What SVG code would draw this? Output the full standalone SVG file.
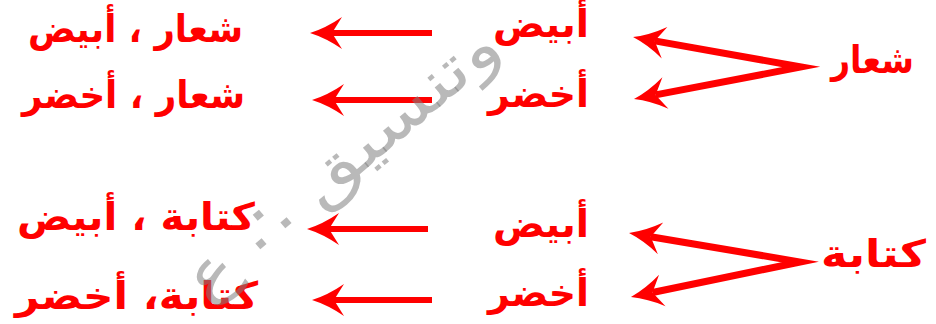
<svg xmlns="http://www.w3.org/2000/svg" width="936" height="324" viewBox="0 0 936 324">
<style>
.t{font-family:"DejaVu Sans","Noto Sans",sans-serif;font-weight:bold;fill:#ff0000;font-size:38px}
.c{fill:none;stroke:#ff0000;stroke-width:6}
.c2{fill:none;stroke:#ff0000;stroke-width:7;stroke-linejoin:miter;stroke-miterlimit:20}
.wm{font-family:"DejaVu Sans",sans-serif;font-size:62px;fill:#808080;fill-opacity:0.55}
</style>
<defs>
<marker id="ah" markerUnits="userSpaceOnUse" orient="auto-start-reverse" refX="-22" refY="0" markerWidth="40" markerHeight="40" overflow="visible">
<path d="M0,0 Q-16,-5 -32,-16 L-22,0 L-32,16 Q-16,5 0,0 Z" fill="#ff0000"/>
</marker>
</defs>
<rect width="936" height="324" fill="#ffffff"/>
<g id="connectors">
<path class="c" d="M432,33 L332,33" marker-end="url(#ah)"/>
<path class="c" d="M432,100 L334,100" marker-end="url(#ah)"/>
<path class="c" d="M428,229 L329,229" marker-end="url(#ah)"/>
<path class="c" d="M432,300 L334,300" marker-end="url(#ah)"/>
<path class="c2" d="M654.7,40.9 L801,67 L655.6,94.9" marker-start="url(#ah)" marker-end="url(#ah)"/>
<path class="c2" d="M650.7,236.7 L800,262 L652.5,292.5" marker-start="url(#ah)" marker-end="url(#ah)"/>
</g>
<g id="node-shiar"><text class="t" x="914" y="73" text-anchor="end" textLength="83" lengthAdjust="spacingAndGlyphs">شعار</text></g>
<g id="node-kitaba"><text class="t" x="926" y="267" text-anchor="end" textLength="105" lengthAdjust="spacingAndGlyphs">كتابة</text></g>
<g id="node-abyad1"><text class="t" x="589" y="37" text-anchor="end" textLength="96" lengthAdjust="spacingAndGlyphs">أبيض</text></g>
<g id="node-akhdar1"><text class="t" x="589" y="107" text-anchor="end" textLength="101" lengthAdjust="spacingAndGlyphs">أخضر</text></g>
<g id="node-abyad2"><text class="t" x="589" y="237" text-anchor="end" textLength="96" lengthAdjust="spacingAndGlyphs">أبيض</text></g>
<g id="node-akhdar2"><text class="t" x="589" y="306" text-anchor="end" textLength="101" lengthAdjust="spacingAndGlyphs">أخضر</text></g>
<g id="node-r1"><text class="t" x="243" y="42" text-anchor="end" textLength="215" lengthAdjust="spacingAndGlyphs">شعار ، أبيض</text></g>
<g id="node-r2"><text class="t" x="245" y="108" text-anchor="end" textLength="223" lengthAdjust="spacingAndGlyphs">شعار ، أخضر</text></g>
<g id="node-r3"><text class="t" x="255" y="230" text-anchor="end" textLength="238" lengthAdjust="spacingAndGlyphs">كتابة ، أبيض</text></g>
<g id="node-r4"><text class="t" x="258" y="309" text-anchor="end" textLength="243" lengthAdjust="spacingAndGlyphs">كتابة، أخضر</text></g>
<g id="watermark"><text class="wm" transform="translate(355,178) rotate(-40)" text-anchor="middle" textLength="390" lengthAdjust="spacingAndGlyphs">وتنسيق ∴ ع</text></g>
</svg>
